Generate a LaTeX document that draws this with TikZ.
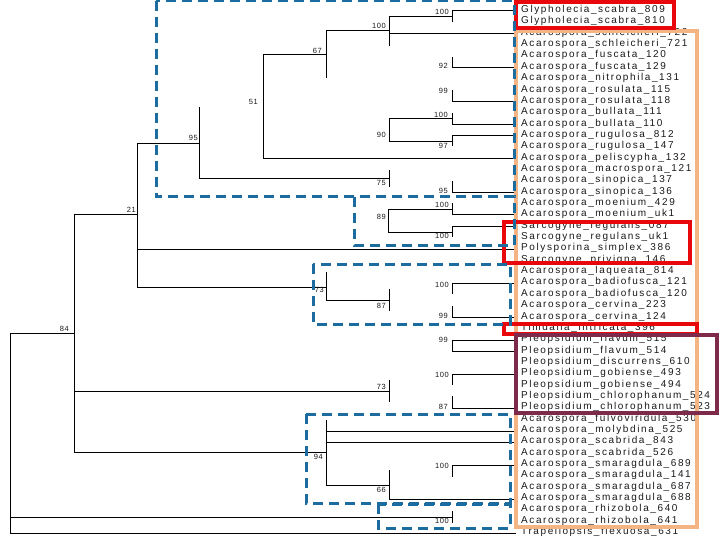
\documentclass[tikz,border=0pt]{standalone}
\usepackage{fontspec}
\setmainfont{Liberation Sans}
\newfontfamily\leaffont[LetterSpace=16]{Liberation Sans}
\newfontfamily\supfont[LetterSpace=8]{Liberation Sans}
\definecolor{peach}{RGB}{244,180,132}
\definecolor{boxred}{RGB}{232,8,12}
\definecolor{plum}{RGB}{125,42,75}
\definecolor{dblue}{RGB}{28,108,160}
\definecolor{txt}{RGB}{25,25,25}
\tikzset{
  br/.style={line width=0.9pt, draw=black},
  leaflab/.style={anchor=west, inner sep=0pt, text=txt, font=\leaffont\fontsize{10}{11}\selectfont},
  suplab/.style={anchor=east, inner sep=0pt, text=txt, font=\supfont\fontsize{7.5}{8}\selectfont},
  dbox/.style={draw=dblue, line width=3pt, dash pattern=on 10pt off 6pt},
  sbox/.style={line width=4pt}
}
\begin{document}
\begin{tikzpicture}[x=1pt,y=-1pt]
\useasboundingbox (0,0) rectangle (720,540);
% leaf labels
\foreach \t [count=\i] in {
Glypholecia\_scabra\_809, Glypholecia\_scabra\_810, Acarospora\_schleicheri\_722, Acarospora\_schleicheri\_721,
Acarospora\_fuscata\_120, Acarospora\_fuscata\_129, Acarospora\_nitrophila\_131, Acarospora\_rosulata\_115,
Acarospora\_rosulata\_118, Acarospora\_bullata\_111, Acarospora\_bullata\_110, Acarospora\_rugulosa\_812,
Acarospora\_rugulosa\_147, Acarospora\_peliscypha\_132, Acarospora\_macrospora\_121, Acarospora\_sinopica\_137,
Acarospora\_sinopica\_136, Acarospora\_moenium\_429, Acarospora\_moenium\_uk1, Sarcogyne\_regulans\_087,
Sarcogyne\_regulans\_uk1, Polysporina\_simplex\_386, Sarcogyne\_privigna\_146, Acarospora\_laqueata\_814,
Acarospora\_badiofusca\_121, Acarospora\_badiofusca\_120, Acarospora\_cervina\_223, Acarospora\_cervina\_124,
Timdalia\_intricata\_396, Pleopsidium\_flavum\_515, Pleopsidium\_flavum\_514, Pleopsidium\_discurrens\_610,
Pleopsidium\_gobiense\_493, Pleopsidium\_gobiense\_494, Pleopsidium\_chlorophanum\_524, Pleopsidium\_chlorophanum\_523,
Acarospora\_fulvoviridula\_530, Acarospora\_molybdina\_525, Acarospora\_scabrida\_843, Acarospora\_scabrida\_526,
Acarospora\_smaragdula\_689, Acarospora\_smaragdula\_141, Acarospora\_smaragdula\_687, Acarospora\_smaragdula\_688,
Acarospora\_rhizobola\_640, Acarospora\_rhizobola\_641, Trapeliopsis\_flexuosa\_631}
  \node[leaflab] (l\i) at (521,{10+(\i-1)*11.35}) {\t};
% branches
\draw[br] (452,10)--(516,10) (452,10)--(452,22);
\draw[br] (389,16)--(452,16) (389,16)--(389,46) (389,33)--(516,33);
\draw[br] (326,30)--(389,30) (326,30)--(326,78);
\draw[br] (263,54)--(326,54) (263,54)--(263,158) (263,158)--(516,158);
\draw[br] (452,57)--(452,67)--(516,67);
\draw[br] (452,90)--(452,101)--(516,101);
\draw[br] (452,113)--(452,124)--(516,124);
\draw[br] (452,118)--(389,118)--(389,141)--(452,141);
\draw[br] (516,135)--(452,135)--(452,146);
\draw[br] (199,107)--(199,178)--(389,178) (137,143)--(199,143);
\draw[br] (389,170)--(389,187);
\draw[br] (452,181)--(452,192)--(516,192);
\draw[br] (452,209)--(388,209)--(388,232)--(452,232);
\draw[br] (452,203)--(452,214)--(516,214);
\draw[br] (516,226)--(452,226)--(452,237);
\draw[br] (137,143)--(137,287)--(326,287) (137,249)--(516,249);
\draw[br] (326,272)--(326,300)--(389,300) (389,289)--(389,311);
\draw[br] (452,294)--(452,283)--(516,283);
\draw[br] (452,306)--(452,317)--(516,317);
\draw[br] (74,214)--(137,214) (74,214)--(74,452);
\draw[br] (10,333)--(74,333) (10,333)--(10,533);
\draw[br] (516,340)--(452,340)--(452,351)--(516,351);
\draw[br] (516,374)--(452,374)--(452,385) (452,396)--(452,408)--(516,408);
\draw[br] (74,391)--(389,391) (389,380)--(389,402);
\draw[br] (74,452)--(326,452) (326,420)--(326,485);
\draw[br] (326,431)--(516,431) (326,442)--(516,442);
\draw[br] (452,477)--(452,465)--(516,465);
\draw[br] (326,485)--(389,485) (389,470)--(389,499)--(516,499);
\draw[br] (10,517)--(452,517) (452,511)--(452,523);
\draw[br] (10,533)--(516,533);
% support values
\node[suplab] (s1) at (449,12) {100};
\node[suplab] (s2) at (386,26) {100};
\node[suplab] (s3) at (322,51) {67};
\node[suplab] (s4) at (258,102) {51};
\node[suplab] (s5) at (448,66) {92};
\node[suplab] (s6) at (448,91) {99};
\node[suplab] (s7) at (448,115) {100};
\node[suplab] (s8) at (386,135) {90};
\node[suplab] (s9) at (448,146) {97};
\node[suplab] (s10) at (198,138) {95};
\node[suplab] (s11) at (386,183) {75};
\node[suplab] (s12) at (448,191) {95};
\node[suplab] (s13) at (449,205) {100};
\node[suplab] (s14) at (386,217) {89};
\node[suplab] (s15) at (449,236) {100};
\node[suplab] (s16) at (136,210) {21};
\node[suplab] (s17) at (324,290) {73};
\node[suplab] (s18) at (386,306) {87};
\node[suplab] (s19) at (449,285) {100};
\node[suplab] (s20) at (448,316) {99};
\node[suplab] (s21) at (69,329) {84};
\node[suplab] (s22) at (448,340) {99};
\node[suplab] (s23) at (449,375) {100};
\node[suplab] (s24) at (386,387) {73};
\node[suplab] (s25) at (448,407) {87};
\node[suplab] (s26) at (323,457) {94};
\node[suplab] (s27) at (449,466) {100};
\node[suplab] (s28) at (386,490) {66};
\node[suplab] (s29) at (449,521) {100};
% coloured boxes
\draw[sbox, draw=peach] (516,31) rectangle (697,527);
\draw[sbox, draw=boxred] (516,2) rectangle (674,28);
\draw[sbox, draw=boxred] (504,222) rectangle (690,263);
\draw[sbox, draw=boxred] (504,324) rectangle (697,334);
\draw[sbox, draw=plum, line width=3.5pt] (516,335) rectangle (717,413);
% dashed clade boxes
\draw[dbox] (156,1) rectangle (514,197);
\draw[dbox] (354,197) rectangle (514,245);
\draw[dbox] (313,264) rectangle (510,324);
\draw[dbox] (306,414) rectangle (510,503);
\draw[dbox] (378,504) rectangle (510,528);
\end{tikzpicture}
\end{document}
